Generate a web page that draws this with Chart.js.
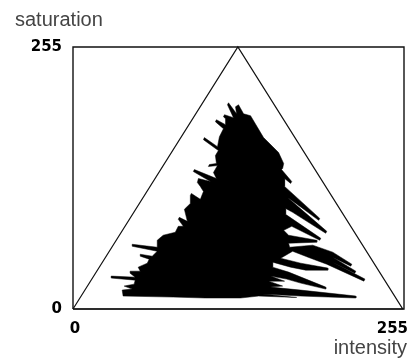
<!DOCTYPE html>
<html>
<head>
<meta charset="UTF-8">
<title>saturation / intensity</title>
<script src="https://cdn.jsdelivr.net/npm/chart.js"></script>
<style>
  html, body { margin: 0; padding: 0; background: #fff; }
  canvas { display: block; }
</style>
</head>
<body>
<canvas id="myChart" width="411" height="358"></canvas>
<script>
// tick labels and axis names
const xTicks = [0, 255];
const yTicks = [0, 255];
const xName = 'intensity';
const yName = 'saturation';

// outer box and the triangle, in intensity / saturation units
const frameX = [0, 0, 255, 255, 0];
const frameY = [0, 255, 255, 0, 0];
const triangleX = [0, 127, 254, 0];
const triangleY = [0, 255, 0, 0];

// outline of the black cloud, spikes included
const cloudX = [38.6, 37.9, 45.6, 39.4, 47.1, 47.9, 29.4, 29.4, 47.9, 44.0,
  44.0, 51.8, 50.2, 57.2, 58.7, 51.8, 51.8, 61.0, 64.9, 45.6,
  45.6, 64.9, 64.9, 69.5, 78.8, 81.1, 85.0, 81.1, 81.9, 88.1,
  85.8, 90.4, 90.4, 91.2, 98.1, 100.5, 98.1, 95.8, 96.6, 105.9,
  92.7, 93.5, 110.5, 108.2, 111.3, 104.3, 105.1, 110.5, 109.7, 112.0,
  100.5, 101.2, 111.3, 112.8, 115.9, 109.7, 110.5, 117.5, 117.5, 115.9,
  116.7, 123.6, 119.0, 119.8, 126.0, 125.2, 127.5, 131.4, 136.8, 146.8,
  158.4, 162.3, 161.5, 159.2, 160.0, 168.5, 167.7, 163.0, 163.0, 190.1,
  189.3, 165.4, 166.9, 195.5, 194.7, 169.2, 163.8, 163.8, 190.9, 190.1,
  168.5, 162.3, 166.1, 187.8, 187.8, 166.1, 166.9, 184.7, 200.1, 214.8,
  214.0, 200.1, 217.9, 217.1, 198.6, 224.9, 224.1, 195.5, 183.1, 169.2,
  160.0, 175.4, 196.3, 196.3, 179.3, 167.7, 153.8, 153.8, 166.1, 194.7,
  194.7, 175.4, 164.6, 152.2, 163.0, 150.7, 161.5, 152.2, 175.4, 217.9,
  217.9, 175.4, 146.0, 172.3, 143.0, 129.0, 102.0, 77.3, 38.6];
const cloudY = [12.6, 18.4, 19.4, 22.3, 24.2, 28.1, 30.1, 32.0, 31.0, 34.9,
  36.8, 36.8, 40.7, 44.6, 48.5, 51.4, 53.3, 51.4, 56.2, 61.1,
  63.0, 60.1, 66.9, 71.8, 74.7, 80.5, 80.5, 87.3, 89.2, 85.3,
  97.0, 102.8, 110.5, 112.5, 106.7, 114.4, 119.3, 123.1, 127.0, 124.1,
  133.8, 135.7, 127.0, 132.8, 139.6, 138.7, 140.6, 141.6, 149.3, 154.2,
  164.8, 166.8, 158.0, 167.7, 175.5, 182.3, 184.2, 179.4, 185.2, 187.1,
  189.1, 186.2, 198.8, 200.7, 190.0, 196.8, 198.8, 190.0, 188.1, 166.8,
  152.2, 141.6, 136.7, 134.8, 136.7, 124.1, 122.2, 127.0, 119.3, 88.2,
  86.3, 108.6, 106.7, 75.6, 73.7, 94.1, 97.9, 92.1, 68.8, 66.9,
  80.5, 76.6, 71.8, 66.9, 65.0, 64.0, 60.1, 62.1, 55.3, 43.6,
  41.7, 50.4, 36.8, 34.9, 46.5, 29.1, 27.1, 43.6, 49.4, 56.2,
  49.4, 44.6, 39.8, 37.8, 37.8, 40.7, 45.6, 40.7, 35.9, 21.3,
  19.4, 25.2, 29.1, 32.0, 27.1, 27.1, 22.3, 21.3, 18.4, 12.6,
  10.7, 12.6, 14.5, 11.2, 12.6, 10.7, 10.7, 11.6, 12.6];

function toPoints(xs, ys) {
  return xs.map((x, i) => ({ x: x, y: ys[i] }));
}

// x tick labels sit off-centre in the original and "intensity" runs past the box,
// so these are placed by hand from the scale
const xLabels = {
  id: 'xLabels',
  afterDraw(chart) {
    const ctx = chart.ctx;
    const scale = chart.scales.x;
    ctx.save();
    ctx.font = 'bold 15px "DejaVu Sans"';
    ctx.fillStyle = '#000';
    ctx.textBaseline = 'middle';
    ctx.textAlign = 'center';
    ctx.fillText(String(xTicks[0]), scale.getPixelForValue(xTicks[0]) + 2, 329);
    ctx.textAlign = 'right';
    ctx.fillText(String(xTicks[1]), scale.getPixelForValue(xTicks[1]) + 4, 329);
    ctx.font = '20px "Liberation Sans"';
    ctx.fillStyle = '#444';
    ctx.fillText(xName, scale.getPixelForValue(xTicks[1]) + 3, 348);
    ctx.restore();
  }
};

new Chart(document.getElementById('myChart'), {
  type: 'scatter',
  data: {
    datasets: [
      { data: toPoints(cloudX, cloudY), showLine: true, fill: 'shape', backgroundColor: '#000', borderColor: '#000', borderWidth: 0.5, pointRadius: 0, tension: 0 },
      { data: toPoints(triangleX, triangleY), showLine: true, borderColor: '#111', borderWidth: 1.2, pointRadius: 0, tension: 0, clip: false },
      { data: toPoints(frameX, frameY), showLine: true, borderColor: '#111', borderWidth: 1.4, pointRadius: 0, tension: 0, clip: false }
    ]
  },
  plugins: [xLabels],
  options: {
    responsive: false,
    animation: false,
    layout: { padding: { left: 15, right: 7, top: 0, bottom: 49 } },
    plugins: {
      legend: { display: false },
      tooltip: { enabled: false },
      title: {
        display: true, text: yName, align: 'start', color: '#444',
        font: { family: '"Liberation Sans"', size: 20, weight: 'normal' },
        padding: { top: 8, bottom: 15 }
      }
    },
    scales: {
      x: {
        type: 'linear', min: 0, max: 255,
        grid: { display: false, drawTicks: false }, border: { display: false },
        ticks: { display: false },
        afterFit(scale) { scale.height = 0; }
      },
      y: {
        type: 'linear', min: 0, max: 255,
        grid: { display: false, drawTicks: false }, border: { display: false },
        afterBuildTicks(scale) { scale.ticks = yTicks.map(v => ({ value: v })); },
        afterFit(scale) { scale.width = 58; },
        ticks: { color: '#000', padding: 11, font: { family: '"DejaVu Sans"', size: 15, weight: 'bold' } }
      }
    }
  }
});
</script>
</body>
</html>
